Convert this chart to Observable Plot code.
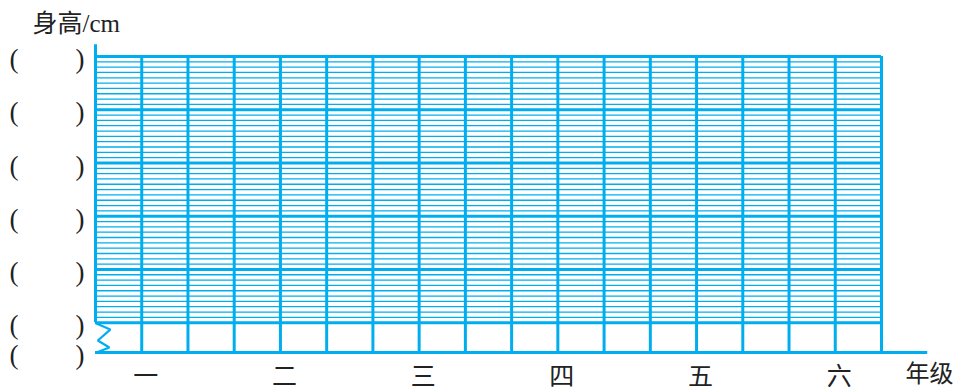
<!DOCTYPE html>
<html>
<head>
<meta charset="utf-8">
<script src="https://cdn.jsdelivr.net/npm/d3@7"></script>
<script src="https://cdn.jsdelivr.net/npm/@observablehq/plot@0.6"></script>
<style>
  html, body { margin: 0; padding: 0; background: #fff; }
  svg { display: block; }
</style>
</head>
<body>
<div id="chart"></div>
<script>
// ---- data ----
const grades = ["一", "二", "三", "四", "五", "六"];
const yTitle = "身高/cm";
const xTitle = "年级";
const yLabelLevels = [50, 40, 30, 20, 10, 0, -5.6]; // blank "( )" labels at each major line and the axis
const columnCount = 17;           // small columns across the grid
const columnsPerGrade = 3;
const majorStep = 10;             // thin rows per major band
const gridTop = 50;
const axisBottom = -5.6;
const axisTop = 52.2;
const axisRight = 18;
const breakMark = [
  {x: 0.02, y: -0.15}, {x: 0.32, y: -1.3}, {x: 0.05, y: -3.35}, {x: 0.3, y: -4.65}, {x: 0.02, y: axisBottom}
];

const blue = "#00aeef";
const cjk = "'Noto Sans CJK SC', 'Liberation Serif', serif";
const serif = "'Liberation Serif', 'Noto Sans CJK SC', serif";

const cols = d3.range(1, columnCount + 1);
const thin = d3.range(1, gridTop).filter(v => v % majorStep !== 0);
const major = d3.range(0, gridTop + 1, majorStep);
const gradeData = grades.map((g, i) => ({g, x: 1 + i * columnsPerGrade}));

const chart = Plot.plot({
  width: 961,
  height: 390,
  marginTop: 56,
  marginBottom: 38,
  marginLeft: 95,
  marginRight: 80,
  x: {domain: [0, columnCount], axis: null},
  y: {domain: [axisBottom, gridTop], axis: null},
  marks: [
    Plot.ruleY(thin, {x1: 0, x2: columnCount, stroke: blue, strokeWidth: 1.3}),
    Plot.ruleY(major, {x1: 0, x2: columnCount, stroke: blue, strokeWidth: 3}),
    Plot.ruleX(cols, {y1: axisBottom, y2: gridTop, stroke: blue, strokeWidth: 3}),
    Plot.ruleX([0], {y1: 0, y2: axisTop, stroke: blue, strokeWidth: 3}),
    Plot.ruleY([axisBottom], {x1: 0, x2: axisRight, stroke: blue, strokeWidth: 3}),
    Plot.line(breakMark, {x: "x", y: "y", stroke: blue, strokeWidth: 2.2, strokeLinejoin: "miter"}),
    Plot.text(yLabelLevels, {y: d => d, frameAnchor: "left", text: () => "(", dx: -86, dy: 3, fontSize: 27, fontFamily: serif, fill: "#222"}),
    Plot.text(yLabelLevels, {y: d => d, frameAnchor: "left", text: () => ")", dx: -20, dy: 3, fontSize: 27, fontFamily: serif, fill: "#222"}),
    Plot.text(gradeData, {x: "x", y: axisBottom, text: "g", dx: 4, dy: 24, fontSize: 25, fontFamily: cjk, fill: "#222"}),
    Plot.text([xTitle], {frameAnchor: "bottom-right", textAnchor: "start", dx: 24, dy: 29, fontSize: 24, fontFamily: cjk, fill: "#222"}),
    Plot.text([yTitle], {frameAnchor: "top-left", textAnchor: "start", dx: -63, dy: -42, fontSize: 25, fontFamily: serif, fill: "#222"})
  ]
});
document.getElementById("chart").appendChild(chart);
</script>
</body>
</html>
